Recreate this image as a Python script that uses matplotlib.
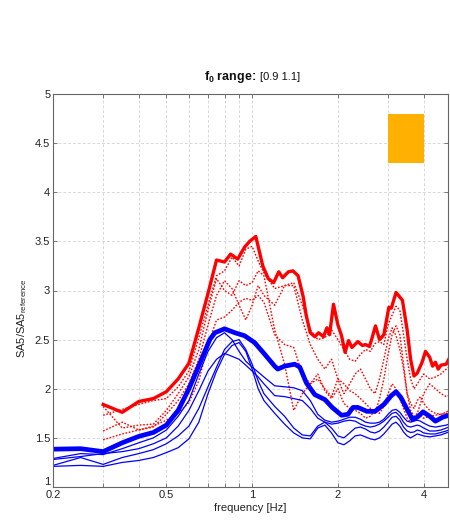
import matplotlib
matplotlib.use("Agg")
import matplotlib.pyplot as plt
from matplotlib.patches import Rectangle
from matplotlib.ticker import FixedLocator, FixedFormatter, NullLocator

plt.rcParams['font.family'] = ['Liberation Sans', 'DejaVu Sans']
plt.rcParams['mathtext.fontset'] = 'custom'
plt.rcParams['mathtext.rm'] = 'Liberation Sans'
plt.rcParams['mathtext.it'] = 'Liberation Sans'
plt.rcParams['mathtext.bf'] = 'Liberation Sans:bold'

# ---- frequency grids [Hz] ----
freq_blue = [0.2, 0.25, 0.3, 0.35, 0.4, 0.45, 0.5, 0.55, 0.6, 0.65, 0.7, 0.75, 0.8, 0.85,
             0.9, 0.95, 1.0, 1.05, 1.1,
             1.2, 1.3, 1.4, 1.5, 1.6, 1.7, 1.8, 1.9, 2.0, 2.1, 2.2, 2.3, 2.4, 2.5, 2.6,
             2.7, 2.8, 2.9, 3.0, 3.1, 3.2, 3.3, 3.4, 3.5, 3.6, 3.7, 3.8, 3.9, 4.0,
             4.2, 4.4, 4.6, 4.8, 4.9]
freq_red = freq_blue[2:]

# ---- individual records (thin blue) ----
blue_1 = [1.29, 1.34, 1.33, 1.39, 1.45, 1.50, 1.58, 1.72, 1.88, 2.15, 2.38, 2.52, 2.57, 2.50,
          2.38, 2.28, 2.22, 2.17, 2.12,
          2.03, 2.02, 2.01, 1.98, 1.88, 1.74, 1.68, 1.66, 1.67, 1.69, 1.71, 1.71, 1.69, 1.66, 1.65,
          1.65, 1.66, 1.69, 1.74, 1.78, 1.79, 1.76, 1.71, 1.67, 1.66, 1.67, 1.68, 1.67, 1.65,
          1.62, 1.61, 1.62, 1.63, 1.64]
blue_2 = [1.28, 1.31, 1.34, 1.36, 1.39, 1.44, 1.50, 1.62, 1.78, 1.98, 2.18, 2.30, 2.36, 2.33,
          2.30, 2.24, 2.18, 2.12, 2.05,
          1.93, 1.92, 1.90, 1.88, 1.80, 1.70, 1.66, 1.64, 1.65, 1.67, 1.68, 1.67, 1.64, 1.62, 1.61,
          1.62, 1.64, 1.67, 1.71, 1.75, 1.76, 1.72, 1.66, 1.62, 1.61, 1.62, 1.63, 1.62, 1.60,
          1.57, 1.57, 1.58, 1.60, 1.61]
blue_3 = [1.22, 1.30, 1.23, 1.30, 1.34, 1.38, 1.44, 1.52, 1.62, 1.80, 2.02, 2.22, 2.40, 2.48,
          2.50, 2.40, 2.25, 2.08, 1.95,
          1.82, 1.72, 1.60, 1.53, 1.52, 1.62, 1.66, 1.60, 1.52, 1.50, 1.55, 1.60, 1.61, 1.59, 1.56,
          1.55, 1.57, 1.61, 1.66, 1.71, 1.72, 1.68, 1.61, 1.57, 1.555, 1.56, 1.58, 1.57, 1.55,
          1.54, 1.54, 1.555, 1.57, 1.58]
blue_4 = [1.21, 1.22, 1.21, 1.25, 1.27, 1.30, 1.35, 1.40, 1.49, 1.66, 1.95, 2.18, 2.35, 2.44,
          2.47, 2.38, 2.20, 2.00, 1.88,
          1.75, 1.64, 1.55, 1.50, 1.49, 1.60, 1.63, 1.55, 1.45, 1.43, 1.47, 1.52, 1.53, 1.51, 1.49,
          1.48, 1.50, 1.54, 1.59, 1.64, 1.66, 1.62, 1.56, 1.52, 1.50, 1.52, 1.54, 1.53, 1.52,
          1.51, 1.52, 1.53, 1.55, 1.56]

# ---- individual records (dotted red) ----
red_1 = [1.73, 1.79, 1.84, 1.88, 1.90, 2.02, 2.18, 2.52, 2.85, 3.15, 3.20, 3.34, 3.25, 3.42,
         3.45, 3.30, 3.18,
         3.02, 3.05, 3.08, 2.85, 2.60, 2.50, 2.52, 2.60, 2.50, 2.40, 2.30, 2.28, 2.35, 2.40, 2.38,
         2.46, 2.48, 2.45, 2.65, 2.75, 2.84, 2.80, 2.55, 2.30, 2.10, 2.00, 2.05, 2.10, 2.15,
         2.10, 2.12, 2.15, 2.20, 2.22]
red_2 = [1.82, 1.60, 1.63, 1.64, 1.78, 1.95, 2.12, 2.40, 2.80, 3.12, 3.00, 2.95, 3.10, 3.05,
         3.08, 3.20, 3.15,
         2.60, 2.25, 1.78, 1.95, 2.05, 2.10, 2.00, 1.92, 2.10, 2.05, 1.98, 1.95, 1.90, 1.85, 1.80,
         1.75, 1.90, 2.10, 2.35, 2.55, 2.64, 2.55, 2.25, 1.95, 1.78, 1.72, 1.75, 1.85, 1.95,
         2.05, 2.00, 1.95, 1.92, 1.93]
red_3 = [1.57, 1.66, 1.58, 1.61, 1.74, 1.88, 2.05, 2.30, 2.65, 2.95, 3.10, 3.02, 2.85, 2.70,
         2.85, 3.05, 2.95,
         2.85, 3.05, 3.05, 2.70, 2.45, 2.30, 2.20, 2.30, 2.10, 1.95, 2.05, 2.15, 2.20, 2.10, 2.00,
         1.95, 2.10, 2.30, 2.50, 2.62, 2.54, 2.40, 2.20, 1.95, 1.85, 1.80, 1.88, 1.92, 1.85,
         1.78, 1.75, 1.74, 1.76, 1.78]
red_4 = [1.48, 1.54, 1.58, 1.62, 1.68, 1.75, 1.86, 2.08, 2.45, 2.70, 2.73, 2.80, 2.88, 2.92,
         2.90, 2.95, 2.88,
         2.55, 2.45, 2.42, 2.15, 2.05, 2.15, 1.98, 1.90, 2.00, 1.85, 1.80, 1.78, 1.75, 1.70, 1.72,
         1.78, 1.75, 1.82, 1.95, 2.05, 2.00, 1.90, 1.80, 1.70, 1.66, 1.68, 1.74, 1.72, 1.70,
         1.72, 1.73, 1.74, 1.75, 1.76]

# ---- summary curves ----
freq_red_main = [0.30, 0.35, 0.40, 0.45, 0.50, 0.55, 0.60, 0.65, 0.70, 0.75, 0.80, 0.84, 0.89,
                 0.94, 0.98, 1.03, 1.09, 1.14, 1.19, 1.24, 1.28, 1.34, 1.39, 1.45, 1.51, 1.55,
                 1.60, 1.66, 1.71, 1.78, 1.83, 1.87, 1.93, 2.00, 2.06, 2.12, 2.18, 2.24, 2.35,
                 2.44, 2.50, 2.58, 2.62, 2.71, 2.80, 2.90, 3.02, 3.08, 3.20, 3.37, 3.50, 3.60,
                 3.70, 3.80, 3.95, 4.06, 4.20, 4.30, 4.40, 4.50, 4.60, 4.80, 4.90]
red_main = [1.84, 1.76, 1.87, 1.90, 1.97, 2.10, 2.26, 2.62, 2.97, 3.31, 3.29, 3.37, 3.32,
            3.44, 3.50, 3.55, 3.25, 3.12, 3.08, 3.19, 3.13, 3.19, 3.20, 3.15, 2.94, 2.74,
            2.57, 2.53, 2.57, 2.53, 2.62, 2.55, 2.86, 2.65, 2.54, 2.37, 2.49, 2.42, 2.48,
            2.44, 2.45, 2.43, 2.49, 2.64, 2.50, 2.55, 2.83, 2.82, 2.98, 2.90, 2.60, 2.30,
            2.13, 2.16, 2.27, 2.38, 2.32, 2.23, 2.27, 2.20, 2.24, 2.25, 2.30]

freq_blue_main = [0.20, 0.25, 0.30, 0.35, 0.40, 0.45, 0.50, 0.55, 0.60, 0.66, 0.71, 0.74, 0.80,
                  0.87, 0.94, 1.02, 1.10, 1.20, 1.23, 1.30, 1.41, 1.47, 1.55, 1.66, 1.80, 1.91,
                  2.06, 2.17, 2.26, 2.35, 2.53, 2.70, 2.90, 3.08, 3.20, 3.33, 3.50, 3.65, 3.80,
                  3.98, 4.20, 4.40, 4.66, 4.90]
blue_main = [1.385, 1.39, 1.36, 1.45, 1.515, 1.555, 1.63, 1.78, 2.00, 2.28, 2.50, 2.57, 2.61,
             2.57, 2.54, 2.47, 2.36, 2.23, 2.20, 2.23, 2.25, 2.22, 2.06, 1.94, 1.89, 1.81,
             1.73, 1.74, 1.81, 1.81, 1.77, 1.77, 1.84, 1.93, 1.97, 1.91, 1.79, 1.69, 1.71,
             1.765, 1.72, 1.67, 1.71, 1.73]

# target box
box_f = (3.0, 4.0)
box_v = (4.3, 4.8)

x_ticks = [0.2, 0.3, 0.4, 0.5, 0.6, 0.7, 0.8, 0.9, 1, 2, 3, 4]
x_labels = ['0.2', '', '', '0.5', '', '', '', '', '1', '2', '', '4']
y_ticks = [1, 1.5, 2, 2.5, 3, 3.5, 4, 4.5, 5]
y_labels = ['1', '1.5', '2', '2.5', '3', '3.5', '4', '4.5', '5']

fig = plt.figure(figsize=(4.5, 5.21), dpi=100)
ax = fig.add_axes([53 / 450, 34 / 521, 395 / 450, 393 / 521])

for series in (red_1, red_2, red_3, red_4):
    ax.plot(freq_red, series, color='#ff0000', linestyle=(0, (1.2, 1.2)), linewidth=1.0)
ax.plot(freq_red_main, red_main, color='#ff0000', linewidth=2.4, solid_joinstyle='round')
for series in (blue_1, blue_2, blue_3, blue_4):
    ax.plot(freq_blue, series, color='#0000ff', linewidth=0.9)
ax.plot(freq_blue_main, blue_main, color='#0000ff', linewidth=3.4, solid_joinstyle='round')

ax.add_patch(Rectangle((box_f[0], box_v[0]), box_f[1] - box_f[0], box_v[1] - box_v[0],
                       facecolor='#ffb000', edgecolor='none', zorder=3))

ax.set_xscale('log')
ax.set_xlim(0.2, 4.87)
ax.set_ylim(1, 5)
ax.xaxis.set_major_locator(FixedLocator(x_ticks))
ax.xaxis.set_major_formatter(FixedFormatter(x_labels))
ax.xaxis.set_minor_locator(NullLocator())
ax.yaxis.set_major_locator(FixedLocator(y_ticks))
ax.yaxis.set_major_formatter(FixedFormatter(y_labels))

ax.grid(True, which='major', color='#d8d8d8', linestyle=(0, (3, 2)), linewidth=0.7)
ax.set_axisbelow(True)
for sp in ax.spines.values():
    sp.set_color('#666666')
    sp.set_linewidth(0.8)
ax.tick_params(direction='in', top=True, right=True, length=3, width=0.6,
               color='#666666', labelsize=8, labelcolor='#222222', pad=2)
# lift the lowest y label so it clears the first x label
ax.get_yticklabels()[0].set_verticalalignment('bottom')

ax.set_xlabel('frequency [Hz]', fontsize=8, labelpad=2, color='#222222')
ax.set_ylabel(r'SA5/SA5$_{\mathrm{reference}}$', fontsize=8, color='#222222')
ax.yaxis.set_label_coords(-0.06, 0.43)

# title: bold lead-in followed by the range in regular weight
ax.text(0.514, 1.035, r'$\mathbf{f_0}$ range:', transform=ax.transAxes, ha='right',
        va='baseline', fontsize=9, fontweight='bold', color='#111111')
ax.text(0.524, 1.035, '[0.9 1.1]', transform=ax.transAxes, ha='left',
        va='baseline', fontsize=8, color='#111111')

fig.savefig('out.png', dpi=100)
